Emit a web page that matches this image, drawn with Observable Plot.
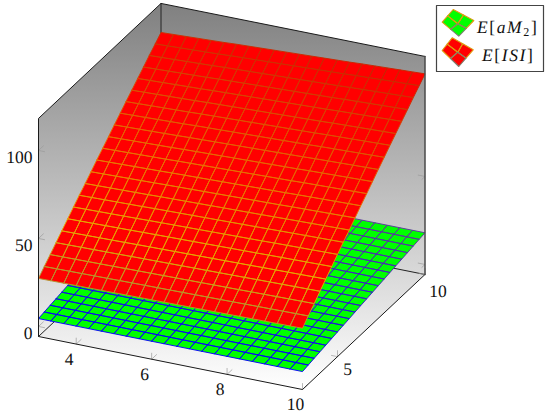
<!DOCTYPE html>
<html>
<head>
<meta charset="utf-8">
<script src="https://cdn.jsdelivr.net/npm/d3@7"></script>
<script src="https://cdn.jsdelivr.net/npm/@observablehq/plot@0.6"></script>
<style>
html,body{margin:0;padding:0;background:#fff;}
#chart{position:relative;width:550px;height:415px;overflow:hidden;}
#chart svg{display:block;}
#chart svg text{text-rendering:geometricPrecision;}
.lg{position:absolute;font:17.5px "Liberation Serif","Times New Roman",serif;text-rendering:geometricPrecision;letter-spacing:1.6px;color:#111;white-space:nowrap;line-height:20px;}
.lg i{font-style:italic;}
.lg sub{font-size:12px;line-height:0;vertical-align:-3px;}
</style>
</head>
<body>
<div id="chart"></div>
<script>
// Samples along both horizontal axes (22 samples)
const xSamples = [3,3.33,3.67,4,4.33,4.67,5,5.33,5.67,6,6.33,6.67,7,7.33,7.67,8,8.33,8.67,9,9.33,9.67,10];
const ySamples = [3,3.33,3.67,4,4.33,4.67,5,5.33,5.67,6,6.33,6.67,7,7.33,7.67,8,8.33,8.67,9,9.33,9.67,10];
// E[aM2], per y sample (flat along x)
const aM2ByY = [4.5,5.14,5.79,6.43,7.07,7.71,8.36,9,9.64,10.29,10.93,11.57,12.21,12.86,13.5,14.14,14.79,15.43,16.07,16.71,17.36,18];
// E[ISI], per y sample at x = 3, and its growth along x
const isiByY = [27.3,31,34.6,38.3,41.9,45.6,49.2,52.8,56.3,59.9,63.5,67,70.5,74.1,77.6,81.1,84.5,88,91.4,94.9,98.3,101.7];
const isiByX = [1,1.003,1.006,1.009,1.012,1.015,1.019,1.022,1.025,1.028,1.031,1.034,1.037,1.04,1.043,1.046,1.05,1.053,1.056,1.059,1.062,1.065];
// Axes
const xTicks = [4,6,8,10];
const yTicks = [5,10];
const zTicks = [0,50,100];
const xDomain = [3,10], yDomain = [3,10], zDomain = [-5.7,118.2];

// Fixed axonometric view of the 3D box
const view = {ox:38, oy:336, xx:264, xy:53, yx:122.5, yy:-115, zy:-1.76};
const sx = ([x,y]) => view.ox + (x-xDomain[0])/7*view.xx + (y-yDomain[0])/7*view.yx;
const sy = ([x,y,z]) => view.oy + (x-xDomain[0])/7*view.xy + (y-yDomain[0])/7*view.yy + (z-zDomain[0])*view.zy;
const [x0,x1] = xDomain, [y0,y1] = yDomain, [z0,z1] = zDomain;

function surface(name, zAt){
  const pts = [];
  for(let j=ySamples.length-2;j>=0;j--) for(let i=0;i<xSamples.length-1;i++){
    const corners = [[i,j],[i+1,j],[i+1,j+1],[i,j+1],[i,j]].map(([a,b])=>[xSamples[a],ySamples[b],zAt(a,b)]);
    const level = d3.mean(corners.slice(0,4),c=>c[2]);
    corners.forEach(c=>pts.push({id:`${name}-${i}-${j}`,p:c,level}));
  }
  return pts;
}
const green = surface("aM2",(a,b)=>aM2ByY[b]);
const red = surface("ISI",(a,b)=>isiByY[b]*isiByX[a]);

const path3 = (id,list)=>list.map(p=>({id,p}));
const walls = path3("walls",[[x0,y0,z0],[x0,y0,z1],[x0,y1,z1],[x1,y1,z1],[x1,y1,z0],[x1,y0,z0],[x0,y0,z0]]);
const hidden = [
  ...path3("a",[[x0,y0,z0],[x0,y1,z0],[x1,y1,z0]]),
  ...path3("b",[[x0,y1,z0],[x0,y1,z1]])
];
const rim = path3("r1",[[x1,y1,z0],[x1,y0,z0],[x0,y0,z0],[x0,y0,z1],[x0,y1,z1],[x1,y1,z1]]);
const rightEdge = path3("r2",[[x1,y1,z1],[x1,y1,z0]]);
const ticks = [
  ...xTicks.flatMap(v=>path3("x"+v,[[v,y0+0.28,z0],[v,y0,z0],[v,y0,z0+3.4]])),
  ...yTicks.flatMap(v=>path3("y"+v,[[x1-0.16,v,z0],[x1,v,z0],[x1,v,z0+3.4]])),
  ...zTicks.flatMap(v=>path3("zl"+v,[[x0+0.16,y0,v],[x0,y0,v],[x0,y0+0.28,v]])),
  ...zTicks.flatMap(v=>path3("zr"+v,[[x1-0.18,y1,v],[x1,y1,v],[x1,y1-0.18,v]]))
];

const defs = () => {
  const d = d3.create("svg:defs");
  const g = d.append("linearGradient").attr("id","wall").attr("x1",0).attr("y1",0).attr("x2",0).attr("y2",1);
  g.append("stop").attr("offset","0%").attr("stop-color","#808080");
  g.append("stop").attr("offset","100%").attr("stop-color","#ffffff");
  return d.node();
};

// Legend glyphs: four-patch diamonds
function glyph(name, c, top, right, bottom, left){
  const mid=(a,b)=>[(a[0]+b[0])/2,(a[1]+b[1])/2];
  const cells={
    top:[top,mid(top,right),c,mid(left,top)],
    right:[mid(top,right),right,mid(right,bottom),c],
    left:[mid(left,top),c,mid(bottom,left),left],
    bottom:[c,mid(right,bottom),bottom,mid(bottom,left)]
  };
  return Object.entries(cells).flatMap(([k,q])=>[...q,q[0]].map(p=>({id:name+k,k,u:p[0],v:p[1]})));
}
const glyphG = glyph("g",[457.3,23.3],[452.7,9],[473.3,20],[458.3,35.7],[441.7,21.7]);
const glyphR = glyph("r",[457.3,51.7],[451.7,37.3],[472.7,49.3],[458.3,66],[441.7,50]);
const glyphMark = (data,fill)=>[
  Plot.line(data,{x:"u",y:"v",z:"id",fill,stroke:"none"}),
  Plot.line(data.filter(d=>d.k!=="bottom"),{x:"u",y:"v",z:"id",stroke:"#e09a10",strokeWidth:1.1}),
  Plot.line(data.filter(d=>d.k==="bottom"),{x:"u",y:"v",z:"id",stroke:"#7f8070",strokeWidth:1.1})
];
const frame = [[436,5],[543,5],[543,71],[436,71],[436,5]].map(([u,v])=>({u,v}));

const meshOpts = {x:d=>sx(d.p),y:d=>sy(d.p),z:"id"};
const labelOpts = {text:String,fontSize:17.5,fontFamily:"Liberation Serif",fill:"#111"};
const chart = Plot.plot({
  width:550,height:415,margin:0,
  style:{background:"#fff",overflow:"visible"},
  x:{domain:[0,550],range:[0,550],axis:null},
  y:{domain:[0,415],range:[0,415],axis:null},
  color:{type:"linear",domain:[4,18,28,42,70,108],range:["#0000ff","#5c3a9a","#b09030","#e8a800","#e86a00","#c82000"]},
  marks:[
    defs,
    Plot.line(walls,{...meshOpts,fill:"url(#wall)",stroke:"none"}),
    Plot.line(hidden,{...meshOpts,stroke:"#222",strokeWidth:1}),
    Plot.line(ticks,{...meshOpts,stroke:"#9a9a9a",strokeWidth:0.7}),
    Plot.line(green,{...meshOpts,fill:"#00ff00",stroke:"none"}),
    Plot.line(green,{...meshOpts,stroke:"level",strokeWidth:0.95}),
    Plot.line(red,{...meshOpts,fill:"#ff0000",stroke:"none"}),
    Plot.line(red,{...meshOpts,stroke:"level",strokeWidth:0.95}),
    Plot.line(rim,{...meshOpts,stroke:"#1a1a1a",strokeWidth:1}),
    Plot.line(rightEdge,{...meshOpts,stroke:"#4a4a4a",strokeWidth:1.5}),
    Plot.text(xTicks,{x:v=>sx([v,y0,z0]),y:v=>sy([v,y0,z0]),dx:-7,dy:15,...labelOpts}),
    Plot.text(yTicks.filter(v=>v<10),{x:v=>sx([x1,v,z0]),y:v=>sy([x1,v,z0]),dx:10,dy:13,...labelOpts}),
    Plot.text(yTicks.filter(v=>v===10),{x:v=>sx([x1,v,z0]),y:v=>sy([x1,v,z0]),dx:13,dy:17,...labelOpts}),
    Plot.text(zTicks,{x:v=>sx([x0,y0,v]),y:v=>sy([x0,y0,v]),dx:-6,dy:6.5,textAnchor:"end",...labelOpts}),
    Plot.line(frame,{x:"u",y:"v",stroke:"#444",strokeWidth:1.2}),
    ...glyphMark(glyphG,"#00ff00"),
    ...glyphMark(glyphR,"#ff0000")
  ]
});
const host = document.getElementById("chart");
host.append(chart);
const lg1 = document.createElement("div");
lg1.className="lg"; lg1.style.left="477px"; lg1.style.top="17px";
lg1.innerHTML="<i>E</i>[<i>aM</i><sub>2</sub>]";
const lg2 = document.createElement("div");
lg2.className="lg"; lg2.style.left="482px"; lg2.style.top="45px";
lg2.innerHTML="<i>E</i>[<i>ISI</i>]";
host.append(lg1,lg2);
</script>
</body>
</html>
